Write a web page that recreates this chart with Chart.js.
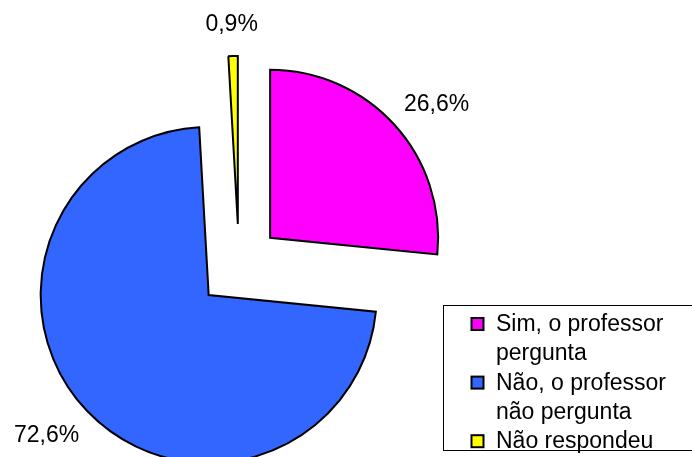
<!DOCTYPE html>
<html>
<head>
<meta charset="utf-8">
<script src="https://cdn.jsdelivr.net/npm/chart.js@4.4.0/dist/chart.umd.min.js"></script>
<style>
  html, body { margin: 0; padding: 0; background: #fff; }
  #wrap { width: 692px; height: 457px; position: relative; }
</style>
</head>
<body>
<div id="wrap"><canvas id="pieChart"></canvas></div>
<script>
const categories = [['Sim, o professor', 'pergunta'], ['Não, o professor', 'não pergunta'], ['Não respondeu']];
const percentages = [26.6, 72.6, 0.9];
const sliceColors = ['#FF00FF', '#3366FF', '#FFFF00'];

const PIE_RADIUS = 168;
const EXPLODE = 42; // how far every slice is pulled out from the centre
const FONT = '23px "Liberation Sans", Arial, sans-serif';

// pull every arc out along its own bisector (keeps the full angle and radius,
// unlike the built-in offset option)
const explode = {
  id: 'explode',
  afterDatasetUpdate(chart, args) {
    args.meta.data.forEach(arc => {
      const mid = (arc.startAngle + arc.endAngle) / 2;
      arc.x += Math.cos(mid) * EXPLODE;
      arc.y += Math.sin(mid) * EXPLODE;
    });
  }
};

// percentage labels outside each slice
const sliceLabels = {
  id: 'sliceLabels',
  afterDatasetsDraw(chart) {
    const ctx = chart.ctx;
    const arcs = chart.getDatasetMeta(0).data;
    ctx.save();
    ctx.font = FONT;
    ctx.fillStyle = '#000';
    ctx.textAlign = 'center';
    ctx.textBaseline = 'alphabetic';
    arcs.forEach((arc, i) => {
      const mid = (arc.startAngle + arc.endAngle) / 2;
      const cos = Math.cos(mid), sin = Math.sin(mid);
      const txt = percentages[i].toFixed(1).replace('.', ',') + '%';
      const w = ctx.measureText(txt).width;
      const d = arc.outerRadius + 24;
      const x = arc.x + cos * d + cos * w / 2;
      const y = arc.y + sin * d + sin * 9;
      ctx.fillText(txt, x, y + 8);
    });
    ctx.restore();
  }
};

// boxed legend in the lower right corner
const boxLegend = {
  id: 'boxLegend',
  afterDraw(chart) {
    const ctx = chart.ctx;
    ctx.save();
    ctx.strokeStyle = '#000';
    ctx.lineWidth = 1;
    ctx.strokeRect(443.5, 305.5, 260, 145);
    ctx.font = FONT;
    ctx.textBaseline = 'alphabetic';
    let y = 331;
    categories.forEach((lines, i) => {
      ctx.fillStyle = sliceColors[i];
      ctx.fillRect(471.5, y - 13, 12, 12);
      ctx.lineWidth = 2;
      ctx.strokeRect(471.5, y - 13, 12, 12);
      ctx.fillStyle = '#000';
      lines.forEach(line => {
        ctx.fillText(line, 496, y);
        y += 29.3;
      });
    });
    ctx.restore();
  }
};

const ctx = document.getElementById('pieChart').getContext('2d');
const pieChart = new Chart(ctx, {
  type: 'pie',
  data: {
    labels: categories,
    datasets: [{
      data: percentages,
      backgroundColor: sliceColors,
      borderColor: '#000',
      borderWidth: 2,
      borderJoinStyle: 'miter',
      radius: PIE_RADIUS,
    }],
  },
  options: {
    responsive: true,
    maintainAspectRatio: false,
    animation: false,
    layout: { padding: { left: 0, top: 75, right: 214, bottom: 0 } },
    plugins: {
      legend: { display: false },
      tooltip: { enabled: false },
    },
  },
  plugins: [explode, sliceLabels, boxLegend],
});
</script>
</body>
</html>
